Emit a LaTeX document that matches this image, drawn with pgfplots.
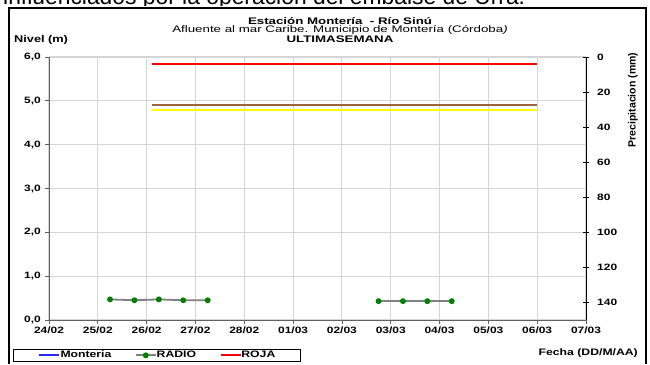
\documentclass[border=0pt]{standalone}
\usepackage{pgfplots}
\pgfplotsset{compat=1.18}
\usepackage{fontspec}
\setmainfont{Liberation Sans}
\usepackage{graphicx}
\newcommand{\sx}[2][1.3]{\scalebox{#1}[1]{#2}}
\newcommand{\tl}[1]{\sx{\fontsize{9.2}{10}\selectfont\bfseries #1}}
\definecolor{gridc}{HTML}{D4D4D4}
\definecolor{axc}{HTML}{606060}
\definecolor{brownl}{HTML}{A0643C}
\definecolor{radiog}{HTML}{808080}
\definecolor{mk}{HTML}{008000}
\definecolor{monb}{HTML}{2828FF}
\definecolor{yel}{HTML}{FFFF00}
\begin{document}
\begin{tikzpicture}[x=1pt,y=1pt]
\useasboundingbox (0,0) rectangle (650,364);
\begin{scope}
\clip (0,358.2) rectangle (650,364);
\node[anchor=base west, inner sep=0] at (3,359.2) {\resizebox{522pt}{!}{\fontsize{17}{20}\selectfont influenciados por la operación del embalse de Urrá.}};
\end{scope}
\draw[line width=2pt] (8.5,0) -- (8.5,355.5) -- (646,355.5) -- (646,0);
\node[inner sep=0] at (340,343) {\sx[1.4]{\fontsize{9.5}{10}\selectfont\bfseries Estación Montería\ \ - Río Sinú}};
\node[inner sep=0] at (340,333.6) {\sx[1.4]{\fontsize{9.5}{10}\selectfont Afluente al mar Caribe. Municipio de Montería (Córdoba\textit{)}}};
\node[inner sep=0] at (340,324.8) {\sx[1.4]{\fontsize{9.5}{10}\selectfont\bfseries ULTIMASEMANA}};
\node[anchor=west, inner sep=0] at (14,324) {\sx{\fontsize{9.8}{11}\selectfont\bfseries Nivel (m)}};
\node[anchor=east, inner sep=0] at (638,11) {\sx{\fontsize{9.4}{11}\selectfont\bfseries Fecha (DD/M/AA)}};
\node[rotate=90, inner sep=0] at (633,264) {\fontsize{10.5}{12}\selectfont\bfseries Precipitacion (mm)};

\begin{axis}[
  at={(49pt,44pt)}, anchor=south west,
  width=537pt, height=263pt, scale only axis,
  xmin=0, xmax=11, ymin=0, ymax=6,
  axis x line*=bottom, axis y line*=left,
  axis line style={draw=axc, line width=1pt},
  xtick={0,1,...,11},
  xticklabels={{\tl{24/02}},{\tl{25/02}},{\tl{26/02}},{\tl{27/02}},{\tl{28/02}},{\tl{01/03}},{\tl{02/03}},{\tl{03/03}},{\tl{04/03}},{\tl{05/03}},{\tl{06/03}},{\tl{07/03}}},
  ytick={0,1,...,6},
  yticklabels={{\tl{0,0}},{\tl{1,0}},{\tl{2,0}},{\tl{3,0}},{\tl{4,0}},{\tl{5,0}},{\tl{6,0}}},
  tick align=outside, major tick length=4pt,
  tick style={draw=axc, line width=0.8pt},
  grid=major, grid style={draw=gridc, line width=1.1pt},
  xticklabel style={inner sep=1pt, yshift=-2pt},
  yticklabel style={inner sep=1pt, xshift=-3pt},
  legend columns=3,
  legend style={at={(axis description cs:-0.067,-0.157)}, anchor=south west,
    draw=black, line width=0.6pt, inner xsep=25pt, inner ysep=0.5pt,
    font=\fontsize{9.4}{10}\selectfont\bfseries,
    /tikz/every even column/.append style={column sep=23.5pt},
    nodes={inner xsep=0pt, inner ysep=1pt}},
  legend image code/.code={\draw[mark repeat=2, mark phase=2, #1] plot coordinates {(0pt,0pt) (10pt,0pt) (20pt,0pt)};},
]
% Monteria: no level readings fall inside the shown week
\addplot[color=monb, draw=monb, line width=2.2pt] coordinates {(-1,0.5) (-0.5,0.5)};
\addlegendentry{\sx{Monteria}}
\addplot[radiog, line width=1.8pt, mark=*, mark size=2pt, mark options={mk, fill=mk, draw=mk}] coordinates {
 (1.25,0.47) (1.75,0.45) (2.25,0.47) (2.75,0.45) (3.25,0.45)};
\addlegendentry{\sx{RADIO}}
\addplot[red, line width=1.8pt] coordinates {(2.1,5.84) (10,5.84)};
\addlegendentry{\sx{ROJA}}
\addplot[radiog, line width=1.8pt, mark=*, mark size=2pt, mark options={mk, fill=mk, draw=mk}, forget plot] coordinates {
 (6.75,0.43) (7.25,0.43) (7.75,0.43) (8.25,0.43)};
\addplot[brownl, line width=1.6pt, forget plot] coordinates {(2.1,4.91) (10,4.91)};
\addplot[yel, line width=1.8pt, forget plot] coordinates {(2.1,4.80) (10,4.80)};
\end{axis}

\begin{axis}[
  at={(49pt,44pt)}, anchor=south west,
  width=537pt, height=263pt, scale only axis,
  xmin=0, xmax=11, ymin=0, ymax=150, y dir=reverse,
  axis x line=none, axis y line*=right,
  axis line style={draw=black, line width=1pt},
  ytick={0,20,...,140},
  yticklabels={{\tl{0}},{\tl{20}},{\tl{40}},{\tl{60}},{\tl{80}},{\tl{100}},{\tl{120}},{\tl{140}}},
  tick align=center, major tick length=6pt,
  tick style={draw=black, line width=0.8pt},
  yticklabel style={anchor=west, inner sep=0pt, xshift=8pt},
]
\addplot[draw=none, forget plot] coordinates {(0,0)};
\end{axis}
\end{tikzpicture}
\end{document}
